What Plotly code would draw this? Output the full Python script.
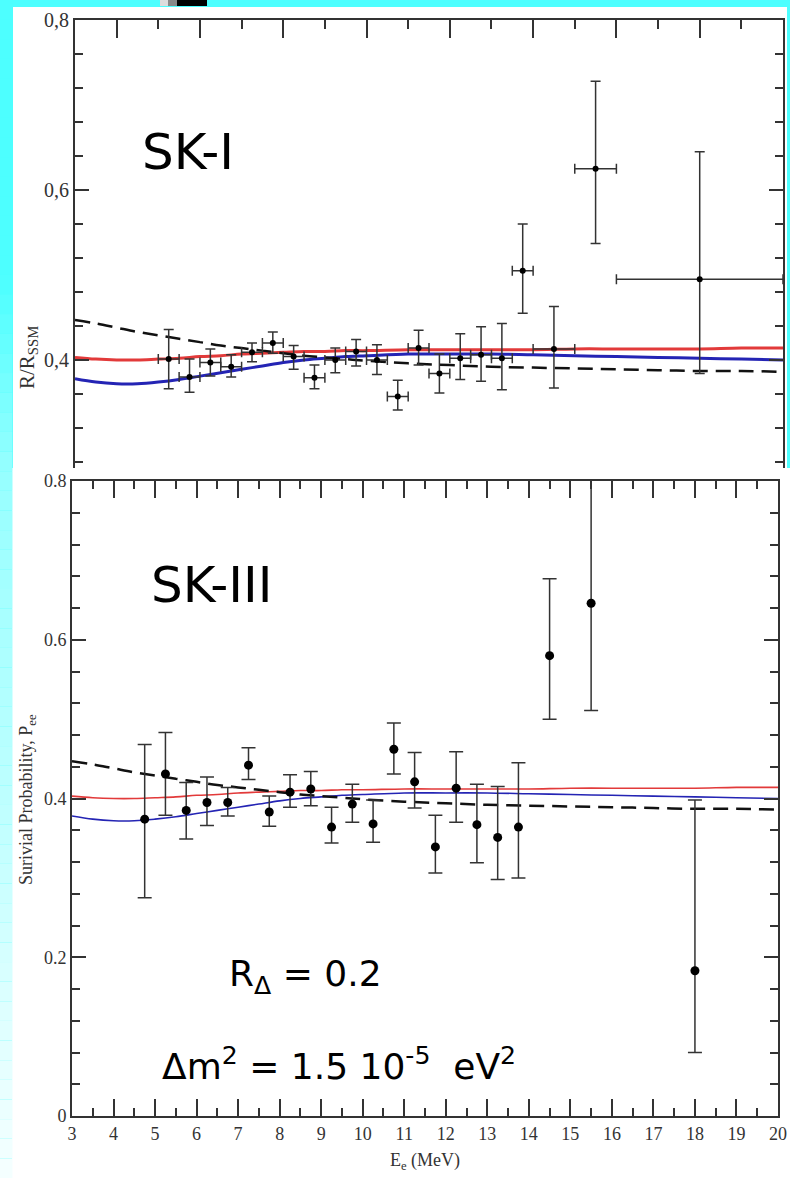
import plotly.graph_objects as go

W, H = 790, 1178

# ---------------- data ----------------
# SK-I (top panel): energy bins, ratio R/R_SSM and errors
ski_E = [5.25, 5.75, 6.25, 6.75, 7.25, 7.75, 8.25, 8.75, 9.25, 9.75, 10.25,
         10.75, 11.25, 11.75, 12.25, 12.75, 13.25, 13.75, 14.5, 15.5, 18.0]
ski_dE = [0.25, 0.25, 0.25, 0.25, 0.25, 0.25, 0.25, 0.25, 0.25, 0.25, 0.25,
          0.25, 0.25, 0.25, 0.25, 0.25, 0.25, 0.25, 0.5, 0.5, 2.0]
ski_R = [0.401, 0.380, 0.397, 0.392, 0.409, 0.420, 0.404, 0.379, 0.400, 0.410, 0.400,
         0.357, 0.414, 0.384, 0.402, 0.406, 0.402, 0.505, 0.413, 0.625, 0.495]
ski_up = [0.035, 0.021, 0.016, 0.014, 0.011, 0.013, 0.013, 0.015, 0.014, 0.014, 0.018,
          0.019, 0.021, 0.023, 0.029, 0.033, 0.041, 0.055, 0.050, 0.103, 0.150]
ski_dn = [0.035, 0.018, 0.016, 0.012, 0.011, 0.012, 0.015, 0.013, 0.015, 0.017, 0.017,
          0.016, 0.020, 0.023, 0.025, 0.031, 0.037, 0.050, 0.046, 0.088, 0.111]

# SK-III (bottom panel): survival probability P_ee and errors
skiii_E = [4.75, 5.25, 5.75, 6.25, 6.75, 7.25, 7.75, 8.25, 8.75, 9.25, 9.75,
           10.25, 10.75, 11.25, 11.75, 12.25, 12.75, 13.25, 13.75, 14.5, 15.5, 18.0]
skiii_P = [0.374, 0.431, 0.385, 0.395, 0.395, 0.442, 0.383, 0.408, 0.412, 0.364, 0.393,
           0.368, 0.462, 0.421, 0.339, 0.413, 0.367, 0.351, 0.364, 0.580, 0.646, 0.183]
skiii_up = [0.094, 0.052, 0.035, 0.032, 0.019, 0.022, 0.020, 0.022, 0.022, 0.025, 0.025,
            0.030, 0.033, 0.037, 0.040, 0.046, 0.051, 0.064, 0.081, 0.097, 0.170, 0.215]
skiii_dn = [0.099, 0.052, 0.036, 0.029, 0.017, 0.018, 0.018, 0.019, 0.021, 0.020, 0.023,
            0.023, 0.031, 0.033, 0.033, 0.043, 0.048, 0.053, 0.064, 0.080, 0.135, 0.103]

# model curves (same in both panels)
curve_E = [3, 3.5, 4, 4.5, 5, 5.5, 6, 6.5, 7, 7.5, 8, 8.5, 9, 9.5, 10,
           11, 12, 13, 14, 15, 16, 17, 18, 19, 20]
red_P = [0.403, 0.401, 0.400, 0.400, 0.401, 0.402, 0.404, 0.405, 0.407, 0.408, 0.409, 0.410,
         0.410, 0.411, 0.411, 0.412, 0.412, 0.412, 0.412, 0.413, 0.413, 0.413, 0.413, 0.414, 0.414]
blue_P = [0.378, 0.374, 0.372, 0.372, 0.374, 0.377, 0.381, 0.385, 0.389, 0.393, 0.397, 0.400,
          0.402, 0.404, 0.405, 0.407, 0.407, 0.407, 0.406, 0.405, 0.404, 0.403, 0.402, 0.401, 0.400]
dash_P = [0.447, 0.443, 0.438, 0.433, 0.429, 0.425, 0.421, 0.417, 0.414, 0.411, 0.408, 0.405,
          0.403, 0.401, 0.399, 0.396, 0.394, 0.392, 0.391, 0.390, 0.389, 0.388, 0.387, 0.387, 0.386]

top_yticks = [0.4, 0.6, 0.8]
top_yticktext = ["0,4", "0,6", "0,8"]
bot_yticks = [0, 0.2, 0.4, 0.6, 0.8]
bot_yticktext = ["0", "0.2", "0.4", "0.6", "0.8"]
bot_xticks = list(range(3, 21))

# ---------------- figure ----------------
def px(x):
    return x / W


def py(y):
    return 1 - y / H


fig = go.Figure()

ERR = '#333333'
RED = '#e23a3a'
BLUE = '#2424b4'

# top panel curves
fig.add_trace(go.Scatter(x=curve_E, y=red_P, mode='lines', line=dict(color=RED, width=3, shape='spline'),
                         xaxis='x', yaxis='y', showlegend=False, hoverinfo='skip'))
fig.add_trace(go.Scatter(x=curve_E, y=blue_P, mode='lines', line=dict(color=BLUE, width=3, shape='spline'),
                         xaxis='x', yaxis='y', showlegend=False, hoverinfo='skip'))
fig.add_trace(go.Scatter(x=curve_E, y=dash_P, mode='lines',
                         line=dict(color='#111111', width=2.5, shape='spline', dash='15px,8px'),
                         xaxis='x', yaxis='y', showlegend=False, hoverinfo='skip'))
fig.add_trace(go.Scatter(
    x=ski_E, y=ski_R, mode='markers', marker=dict(color='black', size=6),
    error_y=dict(type='data', symmetric=False, array=ski_up, arrayminus=ski_dn,
                 color=ERR, thickness=1.5, width=5),
    error_x=dict(type='data', array=ski_dE, color=ERR, thickness=1.5, width=5),
    xaxis='x', yaxis='y', showlegend=False))

# bottom panel curves
fig.add_trace(go.Scatter(x=curve_E, y=red_P, mode='lines', line=dict(color=RED, width=1.6, shape='spline'),
                         xaxis='x2', yaxis='y2', showlegend=False, hoverinfo='skip'))
fig.add_trace(go.Scatter(x=curve_E, y=blue_P, mode='lines', line=dict(color=BLUE, width=1.6, shape='spline'),
                         xaxis='x2', yaxis='y2', showlegend=False, hoverinfo='skip'))
fig.add_trace(go.Scatter(x=curve_E, y=dash_P, mode='lines',
                         line=dict(color='#111111', width=2.5, shape='spline', dash='15px,8px'),
                         xaxis='x2', yaxis='y2', showlegend=False, hoverinfo='skip'))
fig.add_trace(go.Scatter(
    x=skiii_E, y=skiii_P, mode='markers', marker=dict(color='black', size=9),
    error_y=dict(type='data', symmetric=False, array=skiii_up, arrayminus=skiii_dn,
                 color=ERR, thickness=1.5, width=7),
    xaxis='x2', yaxis='y2', showlegend=False))

AX = '#333333'
serif = 'Liberation Serif, Times New Roman, serif'

fig.update_layout(
    width=W, height=H, autosize=False,
    margin=dict(l=0, r=0, t=0, b=0, pad=0),
    paper_bgcolor='#4dffff', plot_bgcolor='white',
    showlegend=False,
    xaxis=dict(domain=[px(75), px(783)], range=[3, 20], anchor='y', side='top', automargin=False,
               showline=True, linecolor=AX, linewidth=2, mirror=False,
               ticks='inside', tickvals=[4, 6, 8, 10, 12, 14, 16, 18, 20], ticklen=18,
               tickwidth=1.5, tickcolor=AX,
               minor=dict(tickmode='array', tickvals=[5, 7, 9, 11, 13, 15, 17, 19],
                          ticks='inside', ticklen=9, tickwidth=1.5, tickcolor=AX),
               showticklabels=False, showgrid=False, zeroline=False),
    yaxis=dict(domain=[py(468), py(20)], range=[0.2729, 0.8], anchor='x', automargin=False,
               showline=True, linecolor=AX, linewidth=2, mirror='ticks',
               ticks='inside', tickvals=top_yticks, ticktext=top_yticktext, ticklen=14,
               tickwidth=1.5, tickcolor=AX,
               minor=dict(tick0=0, dtick=0.04, ticks='inside', ticklen=8, tickwidth=1.5, tickcolor=AX),
               tickfont=dict(family=serif, size=20, color='#333'),
               showgrid=False, zeroline=False),
    xaxis2=dict(domain=[px(72), px(778)], range=[3, 20], anchor='y2', automargin=False,
                showline=True, linecolor=AX, linewidth=2, mirror='ticks',
                ticks='inside', tickvals=bot_xticks, ticklen=17, tickwidth=1.5, tickcolor=AX,
                minor=dict(tick0=3.5, dtick=1, ticks='inside', ticklen=8, tickwidth=1.5, tickcolor=AX),
                tickfont=dict(family=serif, size=18, color='#333'),
                showgrid=False, zeroline=False),
    yaxis2=dict(domain=[py(1116), py(481)], range=[0, 0.8], anchor='x2', automargin=False,
                showline=True, linecolor=AX, linewidth=2, mirror='ticks',
                ticks='inside', tickvals=bot_yticks, ticktext=bot_yticktext, ticklen=14,
                tickwidth=1.5, tickcolor=AX,
                minor=dict(tick0=0, dtick=0.04, ticks='inside', ticklen=8, tickwidth=1.5, tickcolor=AX),
                tickfont=dict(family=serif, size=18, color='#333'),
                showgrid=False, zeroline=False),
)

# background panels and strips
shapes = []
shapes.append(dict(type='rect', xref='paper', yref='paper', x0=px(13), x1=px(787), y0=py(468), y1=py(7),
                   fillcolor='white', line=dict(width=0), layer='below'))
shapes.append(dict(type='rect', xref='paper', yref='paper', x0=px(12), x1=px(790), y0=py(1178), y1=py(468),
                   fillcolor='white', line=dict(width=0), layer='below'))
# left strip gradient (cyan -> pale)
stops = [(0, (77, 255, 255)), (280, (77, 255, 255)), (470, (150, 255, 255)),
         (800, (190, 255, 255)), (1000, (220, 255, 255)), (1178, (245, 255, 255))]
n = 60
for i in range(n):
    y0 = i * H / n
    y1 = (i + 1) * H / n
    ym = (y0 + y1) / 2
    for k in range(len(stops) - 1):
        if stops[k][0] <= ym <= stops[k + 1][0]:
            t = (ym - stops[k][0]) / (stops[k + 1][0] - stops[k][0])
            c = [round(stops[k][1][j] + t * (stops[k + 1][1][j] - stops[k][1][j])) for j in range(3)]
            break
    shapes.append(dict(type='rect', xref='paper', yref='paper', x0=0, x1=px(12.5), y0=py(y1), y1=py(y0),
                       fillcolor='rgb(%d,%d,%d)' % tuple(c), line=dict(width=0), layer='below'))
# small block at top
for (a, b, col) in [(160, 168, '#dddddd'), (168, 177, '#888888'), (177, 207, '#000000')]:
    shapes.append(dict(type='rect', xref='paper', yref='paper', x0=px(a), x1=px(b), y0=py(6), y1=py(0),
                       fillcolor=col, line=dict(width=0), layer='below'))
fig.update_layout(shapes=shapes)

comic = 'DejaVu Sans, Verdana, sans-serif'
ann = []
ann.append(dict(text='SK-I', x=px(188), y=py(152), xref='paper', yref='paper', showarrow=False,
                xanchor='center', yanchor='middle', font=dict(family=comic, size=50, color='black')))
ann.append(dict(text='SK-III', x=px(212), y=py(585), xref='paper', yref='paper', showarrow=False,
                xanchor='center', yanchor='middle', font=dict(family=comic, size=50, color='black')))
ann.append(dict(text='R<sub>Δ</sub> = 0.2', x=px(305), y=py(976), xref='paper', yref='paper', showarrow=False,
                xanchor='center', yanchor='middle', font=dict(family=comic, size=36, color='black')))
ann.append(dict(text='Δm<sup>2</sup> = 1.5 10<sup>-5</sup>  eV<sup>2</sup>', x=px(339), y=py(1064),
                xref='paper', yref='paper', showarrow=False,
                xanchor='center', yanchor='middle', font=dict(family=comic, size=36, color='black')))
ann.append(dict(text='R/R<sub>SSM</sub>', x=px(28), y=py(358), xref='paper', yref='paper', showarrow=False,
                textangle=-90, xanchor='center', yanchor='middle', font=dict(family=serif, size=21, color='#333')))
ann.append(dict(text='Surivial Probability, P<sub>ee</sub>', x=px(27), y=py(800), xref='paper', yref='paper',
                showarrow=False, textangle=-90, xanchor='center', yanchor='middle',
                font=dict(family=serif, size=18, color='#333')))
ann.append(dict(text='E<sub>e</sub> (MeV)', x=px(425), y=py(1161), xref='paper', yref='paper', showarrow=False,
                xanchor='center', yanchor='middle', font=dict(family=serif, size=18, color='#333')))
fig.update_layout(annotations=ann)

fig.write_html('out.html')
